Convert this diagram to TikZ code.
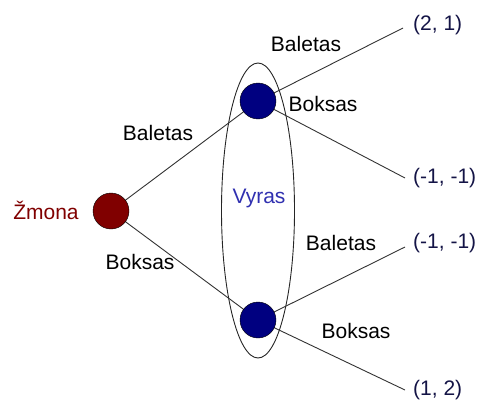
\documentclass[tikz,border=0pt]{standalone}
\usepackage{fontspec}
\setmainfont{Liberation Sans}
\usetikzlibrary{shapes.geometric}
\definecolor{wife}{RGB}{128,0,0}
\definecolor{husband}{RGB}{0,0,128}
\definecolor{vyras}{RGB}{48,48,176}
\definecolor{payoff}{RGB}{20,20,70}
\begin{document}
\begin{tikzpicture}[x=1pt,y=-1pt,
  every node/.style={font=\fontsize{21}{24}\selectfont},
  wnode/.style={circle,draw=black,fill=wife,minimum size=36pt,inner sep=0pt},
  hnode/.style={circle,draw=black,fill=husband,minimum size=36pt,inner sep=0pt},
  edge/.style={draw=black!80,line width=0.9pt},
  lbl/.style={text=black,inner sep=0pt},
  pay/.style={text=payoff,anchor=west,inner sep=0pt}]
\useasboundingbox (0,0) rectangle (486,401);
\coordinate (r) at (111,211);
\coordinate (t) at (258,101);
\coordinate (b) at (258,320);
\coordinate (e1) at (403,28);
\coordinate (e2) at (405,178);
\coordinate (e3) at (405,247);
\coordinate (e4) at (405,390);
\node[ellipse,draw=black!85,line width=0.9pt,minimum width=73pt,minimum height=295pt,inner sep=0pt] (info) at (258,210.5) {};
\draw[edge] (r) -- (t);
\draw[edge] (r) -- (b);
\draw[edge] (t) -- (e1);
\draw[edge] (t) -- (e2);
\draw[edge] (b) -- (e3);
\draw[edge] (b) -- (e4);
\node[wnode] (root) at (r) {};
\node[hnode] (top) at (t) {};
\node[hnode] (bot) at (b) {};
\node[text=wife,inner sep=0pt] (zm) at (46,210) {Žmona};
\node[text=vyras,inner sep=0pt] (vy) at (259,198) {Vyras};
\node[lbl] (l1) at (158,133) {Baletas};
\node[lbl] (l2) at (140,262) {Boksas};
\node[lbl] (l3) at (306,44) {Baletas};
\node[lbl] (l4) at (323,104) {Boksas};
\node[lbl] (l5) at (341,243) {Baletas};
\node[lbl] (l6) at (356,331) {Boksas};
\node[pay] (p1) at (413,25) {(2, 1)};
\node[pay] (p2) at (413,178) {(-1, -1)};
\node[pay] (p3) at (413,243) {(-1, -1)};
\node[pay] (p4) at (413,390) {(1, 2)};
\end{tikzpicture}
\end{document}
